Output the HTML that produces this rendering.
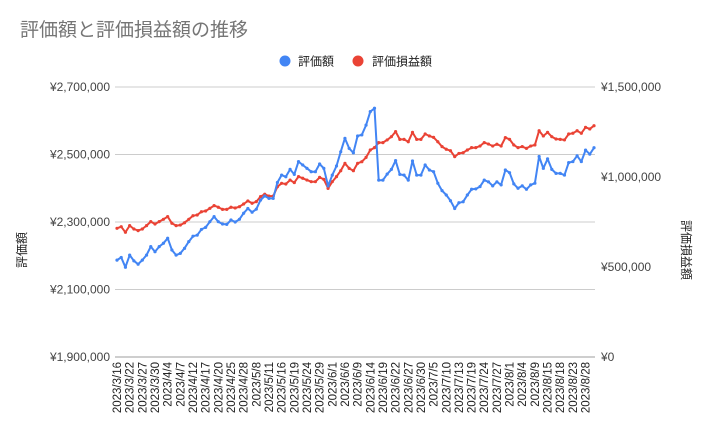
<!DOCTYPE html>
<html><head><meta charset="utf-8">
<style>
html,body{margin:0;padding:0;background:#fff;}
svg{display:block;font-family:"Liberation Sans","Noto Sans CJK JP",sans-serif;}
</style></head>
<body>
<svg id="chart" width="710" height="437" viewBox="0 0 710 437">
<text x="20" y="36" font-size="19" fill="#757575">評価額と評価損益額の推移</text>
<g>
 <g><circle cx="285" cy="61" r="5.5" fill="#4285f4"/><text x="298" y="65.5" font-size="12" fill="#222">評価額</text></g>
 <g><circle cx="358" cy="61" r="5.5" fill="#ea4335"/><text x="372" y="65.5" font-size="12" fill="#222">評価損益額</text></g>
</g>
<g id="grid"></g>
<g id="yleft"></g>
<g id="yright"></g>
<g id="xaxis"></g>
<text transform="translate(26,250) rotate(-90)" text-anchor="middle" font-size="12" fill="#222">評価額</text>
<text transform="translate(682,250) rotate(90)" text-anchor="middle" font-size="12" fill="#222">評価損益額</text>
<g id="series"></g>
</svg>
<script>
const dates = ("3/16 3/17 3/20 3/22 3/23 3/24 3/27 3/28 3/29 3/30 3/31 4/3 4/4 4/5 4/6 4/7 4/10 4/11 4/12 4/13 4/14 4/17 4/18 4/19 4/20 4/21 4/24 4/25 4/26 4/27 4/28 5/1 5/2 5/8 5/9 5/10 5/11 5/12 5/15 5/16 5/17 5/18 5/19 5/22 5/23 5/24 5/25 5/26 5/29 5/30 5/31 6/1 6/2 6/5 6/6 6/7 6/8 6/9 6/12 6/13 6/14 6/15 6/16 6/19 6/20 6/21 6/22 6/23 6/26 6/27 6/28 6/29 6/30 7/3 7/4 7/5 7/6 7/7 7/10 7/11 7/12 7/13 7/14 7/18 7/19 7/20 7/21 7/24 7/25 7/26 7/27 7/28 7/31 8/1 8/2 8/3 8/4 8/7 8/8 8/9 8/10 8/14 8/15 8/16 8/17 8/18 8/21 8/22 8/23 8/24 8/25 8/28 8/29 8/30").split(" ").map(d=>"2023/"+d);
const valuation = [2187,2195,2166,2202,2185,2175,2187,2202,2227,2212,2227,2237,2252,2217,2202,2207,2222,2242,2258,2261,2278,2284,2301,2316,2301,2294,2293,2306,2300,2308,2326,2340,2329,2338,2365,2377,2370,2370,2417,2439,2434,2456,2441,2479,2469,2459,2449,2449,2472,2459,2407,2439,2466,2508,2548,2518,2505,2555,2558,2587,2627,2637,2424,2424,2442,2456,2482,2441,2439,2424,2481,2439,2439,2469,2454,2449,2415,2393,2380,2363,2340,2357,2360,2380,2397,2398,2405,2424,2419,2407,2419,2410,2454,2446,2413,2400,2407,2397,2410,2415,2494,2459,2487,2456,2444,2444,2439,2476,2479,2496,2479,2513,2501,2520].map(v=>v*1000);
const profit = [715,724,693,730,711,702,711,730,752,739,752,765,780,743,730,733,746,765,785,789,807,811,826,841,832,820,820,832,828,835,850,867,854,863,891,904,894,894,946,965,961,983,969,1002,993,983,974,974,998,987,937,974,1002,1035,1076,1048,1035,1076,1085,1109,1150,1163,1191,1191,1206,1224,1252,1209,1209,1196,1248,1209,1209,1239,1228,1220,1196,1169,1154,1146,1113,1131,1135,1150,1163,1163,1172,1191,1183,1172,1182,1172,1219,1209,1178,1163,1169,1159,1172,1178,1257,1228,1248,1224,1211,1209,1206,1239,1243,1257,1243,1276,1267,1285].map(v=>v*1000);
const leftTicks = [1900000,2100000,2300000,2500000,2700000];
const rightTicks = [0,500000,1000000,1500000];

const NS="http://www.w3.org/2000/svg";
const X0=117, X1=594, Ytop=87, Ybot=357;
const L0=1900000,L1=2700000,R0=0,R1=1500000;
const x=i=>X0+(X1-X0)*i/(dates.length-1);
const yl=v=>Ybot-(v-L0)/(L1-L0)*(Ybot-Ytop);
const yr=v=>Ybot-(v-R0)/(R1-R0)*(Ybot-Ytop);
const fmt=v=>"¥"+v.toLocaleString("en-US");
function mk(tag,attrs,parent,txt){const e=document.createElementNS(NS,tag);for(const k in attrs)e.setAttribute(k,attrs[k]);if(txt!==undefined)e.textContent=txt;parent.appendChild(e);return e;}
const grid=document.getElementById("grid"),yleft=document.getElementById("yleft"),yright=document.getElementById("yright"),xaxis=document.getElementById("xaxis"),series=document.getElementById("series");
leftTicks.forEach(v=>{
 const g=mk("line",{x1:115,x2:595,y1:yl(v),y2:yl(v),stroke:v===L0?"#9e9e9e":"#cccccc","stroke-width":1},grid);
 
 
 const t=mk("text",{x:110,y:yl(v)+4,"text-anchor":"end","font-size":12,fill:"#444"},yleft,fmt(v));
 
 
});
rightTicks.forEach(v=>{
 const t=mk("text",{x:601,y:yr(v)+4,"font-size":12,fill:"#444"},yright,fmt(v));
 
 
});
dates.forEach((d,i)=>{
 if(i%3!==0)return;
 const t=mk("text",{transform:`translate(${x(i)+4},362) rotate(-90)`,"text-anchor":"end","font-size":11.5,fill:"#222"},xaxis,d);
 
 
});
function drawSeries(vals,yf,color,name){
 const g=mk("g",{},series);
 
 
 const p=mk("polyline",{points:vals.map((v,i)=>x(i).toFixed(1)+","+yf(v).toFixed(1)).join(" "),fill:"none",stroke:color,"stroke-width":2,"stroke-linejoin":"round"},g);
 
 
 vals.forEach((v,i)=>{
  const c=mk("circle",{cx:x(i),cy:yf(v),r:1.6,fill:color},g);
  
  
 });
}
drawSeries(profit,yr,"#ea4335","profit-series");
drawSeries(valuation,yl,"#4285f4","valuation-series");
</script>
</body></html>
